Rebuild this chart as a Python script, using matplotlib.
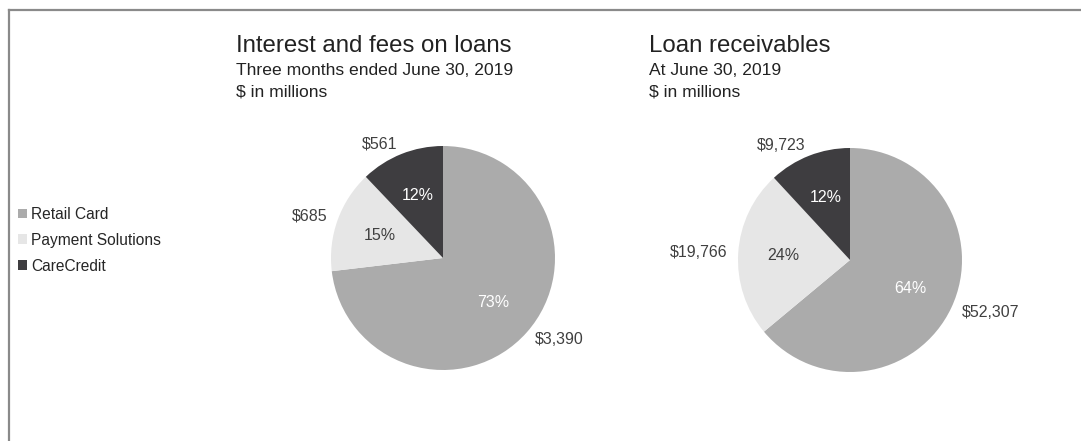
import matplotlib.pyplot as plt
from matplotlib.patches import Patch
from matplotlib.lines import Line2D

plt.rcParams['font.family'] = ['Liberation Sans', 'DejaVu Sans']

segments = ['Retail Card', 'Payment Solutions', 'CareCredit']
colors = ['#ABABAB', '#E6E6E6', '#3E3D40']
pct_colors = ['white', '#404040', 'white']

fees_values = [3390, 685, 561]
fees_labels = ['$3,390', '$685', '$561']
loans_values = [52307, 19766, 9723]
loans_labels = ['$52,307', '$19,766', '$9,723']

W, H = 1081, 441
fig = plt.figure(figsize=(W / 100, H / 100), dpi=100)


def px(x, y):
    return x / W, 1 - y / H


def draw_pie(cx, cy, r, values, labels):
    ax = fig.add_axes([(cx - r) / W, (H - cy - r) / H, 2 * r / W, 2 * r / H])
    wedges, texts, autotexts = ax.pie(values, labels=labels, colors=colors,
                                      startangle=90, counterclock=False,
                                      autopct='%1.0f%%', pctdistance=0.6,
                                      labeldistance=1.1,
                                      textprops={'fontsize': 11.5, 'color': '#404040'})
    for t, c in zip(autotexts, pct_colors):
        t.set_color(c)
    ax.set_xlim(-1, 1)
    ax.set_ylim(-1, 1)
    ax.axis('off')
    return ax


draw_pie(443, 258, 112, fees_values, fees_labels)
draw_pie(850, 260, 112, loans_values, loans_labels)

# titles
fig.text(*px(236, 52), 'Interest and fees on loans', fontsize=17.3, color='#222222', va='baseline')
fig.text(*px(236, 75), 'Three months ended June 30, 2019', fontsize=12.6, color='#222222', va='baseline')
fig.text(*px(236, 97), '$ in millions', fontsize=12.6, color='#222222', va='baseline')
fig.text(*px(649, 52), 'Loan receivables', fontsize=17.3, color='#222222', va='baseline')
fig.text(*px(649, 75), 'At June 30, 2019', fontsize=12.6, color='#222222', va='baseline')
fig.text(*px(649, 97), '$ in millions', fontsize=12.6, color='#222222', va='baseline')

# legend
handles = [Patch(facecolor=c, edgecolor='none') for c in colors]
fig.legend(handles, segments, loc='upper left', bbox_to_anchor=px(4, 193),
           frameon=False, fontsize=11.2, handlelength=0.6, handleheight=0.6,
           handletextpad=0.25, labelspacing=0.7, labelcolor='#262626')

# frame lines
fig.add_artist(Line2D([9 / W, 1], [1 - 10 / H, 1 - 10 / H], color='#8A8A8A', lw=1.6))
fig.add_artist(Line2D([9 / W, 9 / W], [1 - 10 / H, 0], color='#8A8A8A', lw=1.6))

plt.savefig('out.png', dpi=100)
